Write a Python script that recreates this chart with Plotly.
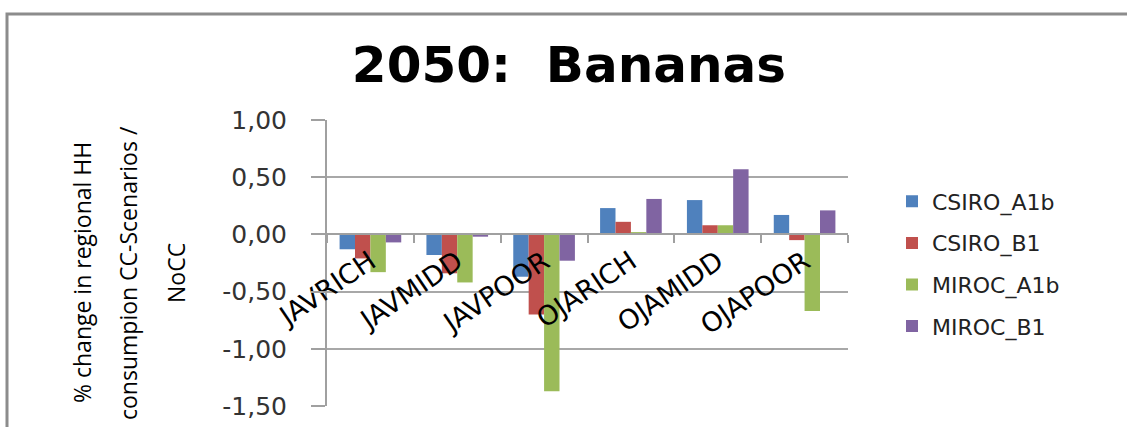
import plotly.graph_objects as go

categories = ["JAVRICH", "JAVMIDD", "JAVPOOR", "OJARICH", "OJAMIDD", "OJAPOOR"]
csiro_a1b = [-0.13, -0.18, -0.37, 0.23, 0.30, 0.17]
csiro_b1 = [-0.21, -0.34, -0.70, 0.11, 0.08, -0.05]
miroc_a1b = [-0.33, -0.42, -1.37, 0.02, 0.08, -0.67]
miroc_b1 = [-0.07, -0.02, -0.23, 0.31, 0.57, 0.21]
series_names = ["CSIRO_A1b", "CSIRO_B1", "MIROC_A1b", "MIROC_B1"]
colors = ["#4F81BD", "#C0504D", "#9BBB59", "#8064A2"]
ytick_vals = [-1.5, -1.0, -0.5, 0.0, 0.5, 1.0]
ytick_text = ["-1,50", "-1,00", "-0,50", "0,00", "0,50", "1,00"]
title_text = "2050:\u00a0 Bananas"
ytitle_lines = ["% change in regional HH", "consumpion CC-Scenarios /", "NoCC"]

W, H = 1127, 427
L, R, T, B = 327, 848, 120, 406
pw, ph = R - L, B - T

def px(x):
    return (x - L) / pw

def py(y):
    return (B - y) / ph

fig = go.Figure()
for name, vals, col in zip(series_names, [csiro_a1b, csiro_b1, miroc_a1b, miroc_b1], colors):
    fig.add_trace(go.Bar(x=categories, y=vals, name=name, marker_color=col,
                         marker_line_width=0, legendgroup=name))

fig.update_layout(
    width=W, height=H,
    margin=dict(l=L, r=W - R, t=T, b=H - B, autoexpand=False),
    paper_bgcolor="white", plot_bgcolor="white",
    barmode="group", bargap=0.29, bargroupgap=0,
    separators=",.",
    title=dict(text=title_text, x=569 / W, xanchor="center", y=1 - 64 / H, yanchor="middle",
               font=dict(family="DejaVu Sans", size=50, color="black", weight="bold")),
    showlegend=True,
    legend=dict(x=px(892), xanchor="left", y=py(264), yanchor="middle",
                traceorder="grouped", tracegroupgap=10,
                font=dict(family="DejaVu Sans", size=22, color="#222"),
                bgcolor="rgba(0,0,0,0)"),
    xaxis=dict(anchor="free", position=0.6, showline=True, linecolor="#a0a0a0", linewidth=2,
               ticks="outside", ticklen=8, tickcolor="#a0a0a0", tickwidth=2,
               tickson="boundaries", showgrid=False, tickangle=-34, automargin=False,
               tickfont=dict(family="DejaVu Sans", size=27, color="black"),
               range=[-0.5, 5.5]),
    yaxis=dict(range=[-1.5, 1.0], tickvals=ytick_vals, ticktext=ytick_text,
               showline=True, linecolor="#a0a0a0", linewidth=2, automargin=False,
               ticks="outside", ticklen=14, tickcolor="#a0a0a0", tickwidth=2,
               showgrid=True, gridcolor="#a8a8a8", gridwidth=2, zeroline=False,
               ticklabelstandoff=19,
               tickfont=dict(family="DejaVu Sans", size=25, color="#333")),
)

for line, xc in zip(ytitle_lines, [82, 128, 176]):
    fig.add_annotation(text=line, xref="paper", yref="paper", x=px(xc), y=py(273),
                       xanchor="center", yanchor="middle", textangle=-90, showarrow=False,
                       font=dict(family="Open Sans", size=23, color="black"))

fig.add_shape(type="rect", xref="paper", yref="paper",
              x0=px(7), x1=px(1145), y0=py(445), y1=py(14),
              line=dict(color="#8c8c8c", width=3), fillcolor="rgba(0,0,0,0)", layer="below")

fig.write_html("out.html", config={"displayModeBar": False},
               post_script="document.body.style.margin='0';document.body.style.overflow='hidden';")
